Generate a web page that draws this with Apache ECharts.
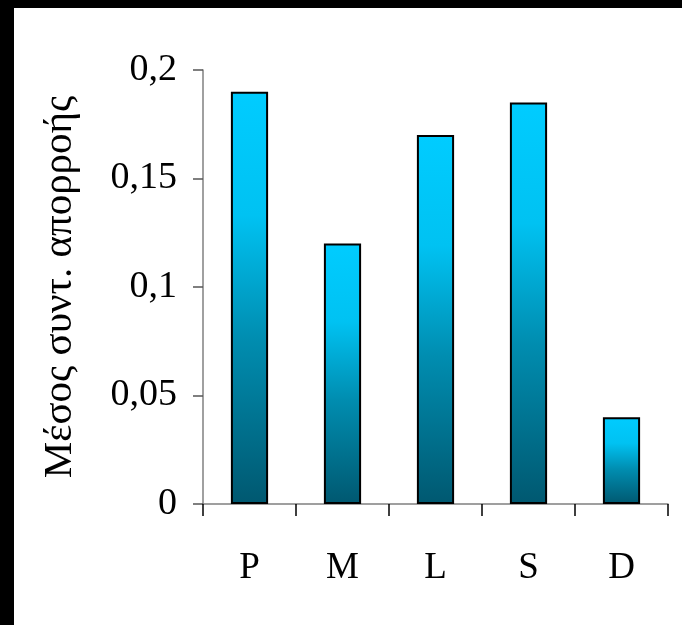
<!DOCTYPE html>
<html>
<head>
<meta charset="utf-8">
<script src="https://cdn.jsdelivr.net/npm/echarts@6/dist/echarts.min.js"></script>
<style>
  html, body { margin: 0; padding: 0; background: #fff; }
  #wrap { position: relative; width: 682px; height: 625px; overflow: hidden; }
  #chart { position: absolute; left: 0; top: 0; width: 682px; height: 625px; }
  .edgeTop { position: absolute; left: 0; top: 0; width: 682px; height: 8px; background: #000; }
  .edgeLeft { position: absolute; left: 0; top: 0; width: 14px; height: 625px; background: #000; }
</style>
</head>
<body>
<div id="wrap">
  <div id="chart"></div>
  <div class="edgeTop"></div>
  <div class="edgeLeft"></div>
</div>
<script>
// Mean runoff coefficient per class
const categories = ['P', 'M', 'L', 'S', 'D'];
const meanRunoff = [0.19, 0.12, 0.17, 0.185, 0.04];
const yTicks = [0, 0.05, 0.1, 0.15, 0.2];
const yTitle = 'Μέσος συντ. απορροής';

const serif = '"Liberation Serif", "DejaVu Serif", serif';

const barFill = new echarts.graphic.LinearGradient(0, 0, 0, 1, [
  { offset: 0, color: '#00CCFF' },
  { offset: 0.3, color: '#00C2F2' },
  { offset: 0.6, color: '#008DB0' },
  { offset: 1, color: '#005870' }
]);

const chart = echarts.init(document.getElementById('chart'), null, { renderer: 'canvas' });
chart.setOption({
  animation: false,
  backgroundColor: '#ffffff',
  grid: { left: 203, right: 14, top: 70, bottom: 121 },
  xAxis: {
    type: 'category',
    data: categories,
    axisLine: { show: true, lineStyle: { color: '#808080', width: 1.5 } },
    axisTick: { show: true, length: 12, lineStyle: { color: '#000', width: 1.5 } },
    axisLabel: { color: '#000', fontFamily: serif, fontSize: 37, margin: 46 }
  },
  yAxis: {
    type: 'value',
    min: yTicks[0],
    max: yTicks[yTicks.length - 1],
    interval: 0.05,
    name: yTitle,
    nameLocation: 'middle',
    nameGap: 122,
    nameRotate: 90,
    nameTextStyle: { color: '#000', fontFamily: serif, fontSize: 41 },
    splitLine: { show: false },
    axisLine: { show: true, lineStyle: { color: '#808080', width: 1.5 } },
    axisTick: { show: true, length: 10, lineStyle: { color: '#555', width: 1.5 } },
    axisLabel: {
      color: '#000', fontFamily: serif, fontSize: 38, margin: 26,
      formatter: v => String(Number(v.toFixed(2))).replace('.', ',')
    }
  },
  series: [{
    type: 'bar',
    data: meanRunoff,
    barWidth: '40%',
    itemStyle: { color: barFill, borderColor: '#000', borderWidth: 2 }
  }]
});
</script>
</body>
</html>
